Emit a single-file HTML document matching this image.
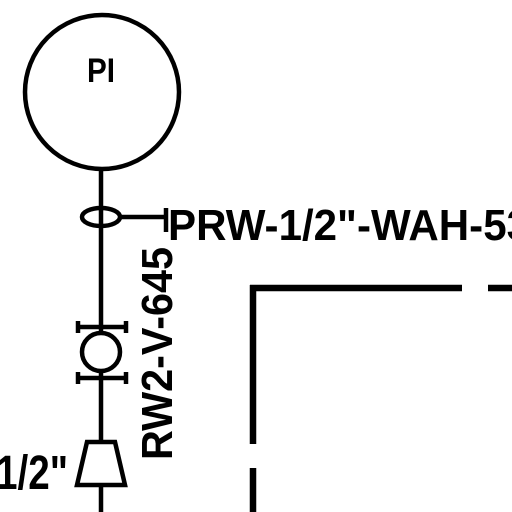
<!DOCTYPE html>
<html><head><meta charset="utf-8"><style>
html,body{margin:0;padding:0;background:#fff;width:512px;height:512px;overflow:hidden}
svg{display:block}
text{font-family:"Liberation Sans",sans-serif;font-weight:bold;fill:#000}
</style></head><body>
<svg width="512" height="512" viewBox="0 0 512 512">
<g stroke="#000" fill="none" stroke-width="4.5">
<circle cx="102" cy="92" r="77"/>
<line x1="101" y1="168" x2="101" y2="512"/>
<ellipse cx="101" cy="217" rx="19" ry="9"/>
<line x1="120" y1="217" x2="166" y2="217"/>
<line x1="166" y1="208" x2="166" y2="232"/>
<g>
<circle cx="101" cy="352" r="19" fill="#fff"/>
<line x1="76" y1="327" x2="128" y2="327"/>
<line x1="76" y1="378" x2="128" y2="378"/>
<line x1="78" y1="321" x2="78" y2="333"/>
<line x1="126" y1="321" x2="126" y2="333"/>
<line x1="78" y1="372" x2="78" y2="384"/>
<line x1="126" y1="372" x2="126" y2="384"/>
</g>
<polygon points="87,442 115,442 125,485 77,485" fill="#fff"/>
<g stroke-width="6.5">
<line x1="253" y1="285" x2="253" y2="444"/>
<line x1="253" y1="468" x2="253" y2="512"/>
<line x1="250" y1="288" x2="462" y2="288"/>
<line x1="488" y1="288" x2="512" y2="288"/>
</g>
</g>
<text x="87" y="82" font-size="34" textLength="28" lengthAdjust="spacingAndGlyphs">PI</text>
<text x="168" y="240" font-size="44" textLength="362" lengthAdjust="spacingAndGlyphs">PRW-1/2"-WAH-53</text>
<text transform="translate(172,460) rotate(-90)" x="0" y="0" font-size="44" textLength="213" lengthAdjust="spacingAndGlyphs">RW2-V-645</text>
<text x="-4" y="489" font-size="48" textLength="72" lengthAdjust="spacingAndGlyphs">1/2"</text>
</svg>
</body></html>
